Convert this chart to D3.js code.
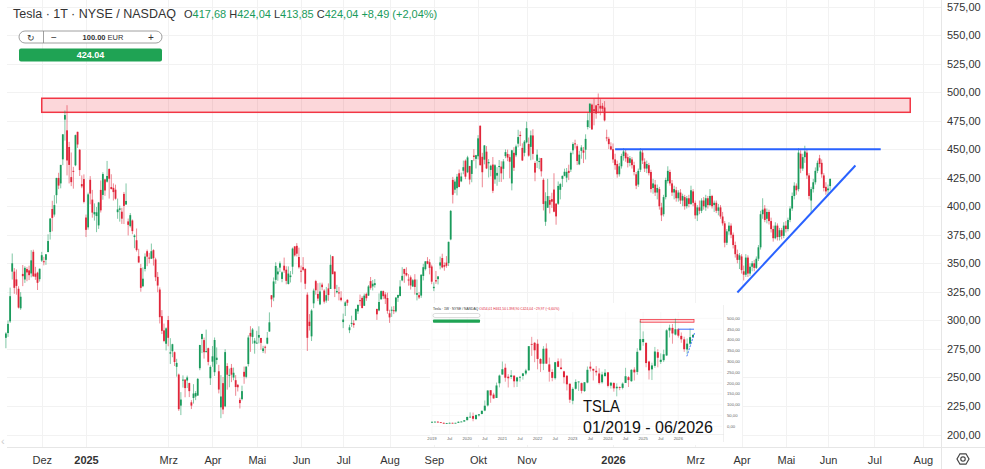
<!DOCTYPE html>
<html>
<head>
<meta charset="utf-8">
<script src="https://cdn.jsdelivr.net/npm/d3@7"></script>
<style>
  body { margin: 0; background: #fff; overflow: hidden; }
  svg { display: block; font-family: "Liberation Sans", Arial, sans-serif; }
</style>
</head>
<body>
<svg id="chart" width="985" height="469"></svg>
<script>
// daily candles per month: [day, open, high, low, close]
const nov2024 = [[6,284.7,289.6,275.6,288.5],[7,288.9,299.8,285.5,296.9],[8,299.1,328.7,297.7,321.2],[11,342.7,358.6,335.8,350.0],[12,342.7,345.8,323.3,328.5],[13,335.9,344.6,322.5,330.2],[14,327.7,329.9,310.4,311.2],[15,310.6,324.7,309.2,320.7],[18,340.7,348.5,330.0,338.7],[19,335.8,347.4,332.8,346.0],[20,345.0,346.6,334.3,342.0],[21,343.8,347.9,335.3,339.6],[22,341.1,361.5,337.7,352.6],[25,360.1,361.9,338.2,338.6],[26,341.0,346.9,335.5,338.2],[27,341.8,342.6,326.6,332.9],[29,336.1,345.5,334.0,345.2]];
const dec2024 = [[2,352.4,360.0,351.2,357.1],[3,351.8,355.7,348.2,351.4],[4,353.0,358.1,348.6,357.9],[5,359.9,375.4,359.5,369.5],[6,377.4,389.5,370.8,389.2],[9,397.6,404.8,378.0,389.8],[10,392.7,409.7,390.9,401.0],[11,409.7,424.9,402.4,424.8],[12,424.8,429.3,415.0,418.1],[13,420.0,436.3,415.7,436.2],[16,441.1,463.2,436.0,463.0],[17,475.9,483.9,457.5,479.9],[18,466.5,488.5,427.0,440.1],[19,451.9,456.4,420.0,436.2],[20,425.5,447.1,417.6,421.1],[23,431.0,434.5,415.4,430.6],[24,435.9,462.8,435.1,462.3],[26,465.2,465.3,451.1,454.1],[27,449.5,450.0,426.5,431.7],[30,419.4,427.0,415.8,417.4],[31,423.8,427.9,402.5,403.8]];
const jan2025 = [[2,390.1,392.7,373.0,379.3],[3,381.5,411.9,379.5,410.4],[6,423.2,426.4,401.7,411.1],[7,405.8,414.3,390.0,394.4],[8,392.9,402.5,387.4,394.9],[10,391.4,399.3,377.3,394.7],[13,383.2,403.8,380.1,403.3],[14,414.3,422.6,394.5,396.4],[15,409.9,429.8,405.7,428.2],[16,423.5,424.0,409.1,413.8],[17,421.5,439.7,420.7,426.5],[21,432.6,433.2,406.7,424.1],[22,416.8,428.0,414.6,415.1],[23,416.1,420.0,405.0,412.4],[24,414.5,418.9,405.8,406.6],[27,394.8,406.7,389.0,397.2],[28,396.9,400.6,386.5,398.1],[29,395.2,398.6,384.5,389.1],[30,410.8,412.5,384.4,400.3],[31,401.5,420.0,401.3,404.6]];
const feb2025 = [[3,386.7,389.2,374.4,383.7],[4,382.6,394.0,381.4,392.2],[5,387.5,388.4,375.5,378.2],[6,373.0,375.4,363.2,374.3],[7,370.2,380.5,360.3,361.6],[10,356.2,362.7,350.5,350.7],[11,345.8,349.4,325.1,328.5],[12,329.9,346.4,329.1,336.5],[13,345.0,358.7,342.9,355.9],[14,360.6,362.0,347.5,355.8],[18,355.0,359.1,350.0,354.1],[19,354.0,367.3,353.7,360.6],[20,361.5,362.3,348.0,354.4],[21,353.4,354.9,334.4,337.8],[24,338.1,342.4,324.7,330.5],[25,327.0,328.9,297.3,302.8],[26,303.7,309.0,288.0,290.8],[27,291.2,297.2,280.9,282.0],[28,279.5,293.9,273.6,293.0]];
const mar2025 = [[3,300.3,303.9,277.3,284.7],[4,270.9,284.4,261.8,272.0],[5,272.9,279.5,267.7,279.1],[6,272.1,272.7,260.0,263.5],[7,259.3,266.3,250.7,262.7],[10,252.5,253.4,220.7,222.2],[11,225.3,237.1,217.0,230.6],[12,247.2,251.8,241.1,248.1],[13,248.1,248.3,232.6,240.7],[14,247.3,251.6,240.7,250.0],[17,245.1,245.4,232.8,238.0],[18,228.2,230.1,222.3,225.3],[19,232.0,244.1,227.1,235.9],[20,233.3,238.0,230.1,236.3],[21,234.1,249.5,234.0,248.7],[24,258.1,278.6,256.3,278.4],[25,283.6,288.2,271.3,288.1],[26,282.7,284.9,266.5,272.1],[27,272.5,291.9,271.8,273.1],[28,275.6,276.1,260.6,263.6],[31,249.3,260.6,243.4,259.2]];
const apr2025 = [[1,263.8,277.5,259.3,268.5],[2,254.6,285.0,251.3,282.8],[3,265.3,276.3,261.5,267.3],[4,255.4,261.0,236.0,239.4],[7,223.8,252.0,214.3,233.3],[8,245.0,250.4,217.8,221.9],[9,224.7,274.7,223.9,272.2],[10,260.0,262.5,239.3,252.4],[11,251.8,257.7,241.4,252.3],[14,258.4,261.8,245.9,252.4],[15,249.9,258.6,247.5,254.1],[16,247.6,252.0,233.9,241.6],[17,243.5,244.3,237.7,241.4],[21,230.3,232.2,222.8,227.5],[22,231.0,242.8,229.9,238.0],[23,254.9,259.5,244.4,250.7],[24,250.5,259.5,249.2,259.5],[25,261.7,286.9,259.6,285.0],[28,289.0,294.9,272.4,285.9],[29,285.5,293.3,279.5,292.0],[30,279.9,284.5,270.8,282.2]];
const may2025 = [[1,280.0,290.9,279.8,280.5],[2,284.9,294.8,279.8,287.2],[5,284.6,284.6,274.3,280.3],[6,273.1,277.7,271.4,275.4],[7,276.9,277.9,271.0,276.2],[8,279.6,289.8,279.1,284.8],[9,290.2,307.0,290.0,298.3],[12,322.0,322.2,311.5,318.4],[13,320.0,337.6,316.8,334.1],[14,335.5,350.9,332.0,347.7],[15,340.3,346.1,334.7,342.8],[16,346.2,351.6,342.3,350.0],[19,336.3,343.0,333.4,342.1],[20,347.9,355.0,341.6,343.8],[21,344.4,347.4,331.6,334.6],[22,331.9,347.3,331.4,341.0],[23,337.9,343.2,333.2,339.3],[27,347.0,363.8,340.4,362.9],[28,364.8,365.0,355.9,356.9],[29,365.3,367.7,356.0,358.4],[30,355.5,363.7,345.3,346.5]];
const jun2025 = [[2,343.5,348.0,333.3,342.7],[3,346.6,355.4,343.0,344.3],[4,345.1,345.6,327.3,332.1],[5,322.5,324.5,273.2,284.7],[6,298.8,305.5,291.1,295.1],[9,286.0,309.8,281.9,308.6],[10,314.9,327.8,310.7,326.1],[11,334.4,335.5,322.5,326.4],[12,323.1,332.6,316.9,319.1],[13,314.0,333.0,313.3,325.3],[16,331.3,333.0,326.4,329.1],[17,326.1,327.3,314.7,316.4],[18,317.3,329.3,315.5,322.1],[20,328.0,332.4,317.1,322.2],[23,327.5,357.5,327.5,348.7],[24,356.2,356.3,340.4,340.5],[25,342.7,343.0,320.4,327.6],[26,324.6,331.1,323.6,325.8],[27,324.5,329.3,317.5,323.6],[30,319.9,325.6,316.6,317.7]];
const jul2025 = [[1,298.5,305.9,293.2,300.7],[2,312.6,316.8,303.8,315.7],[3,318.0,318.5,312.8,315.4],[7,291.4,296.2,288.8,293.9],[8,297.0,304.1,294.3,297.8],[9,297.5,300.2,293.5,295.9],[10,300.1,310.5,300.0,309.9],[11,307.9,314.1,305.6,313.5],[14,317.7,322.6,312.7,316.9],[15,319.7,321.2,310.5,310.8],[16,312.8,323.5,312.6,321.7],[17,323.2,324.3,317.1,319.4],[18,321.7,330.9,321.4,329.7],[21,334.4,338.0,326.9,328.5],[22,329.7,335.4,326.2,332.1],[23,330.9,336.2,328.7,332.6],[24,310.0,310.2,300.4,305.3],[25,308.7,323.6,308.0,316.1],[28,318.5,326.2,318.1,325.6],[29,325.6,326.2,318.6,321.2],[30,322.7,324.7,314.3,319.0],[31,319.6,324.3,305.8,308.3]];
const aug2025 = [[1,306.2,309.3,297.8,302.6],[4,309.1,312.1,303.0,309.3],[5,308.9,312.5,305.5,308.7],[6,307.9,320.5,306.9,319.9],[7,319.8,322.4,316.2,322.3],[8,321.4,335.2,321.0,329.7],[11,335.0,346.6,334.3,339.0],[12,345.0,345.3,332.9,340.8],[13,341.5,346.5,338.5,339.4],[14,335.8,340.5,330.4,335.6],[15,337.7,339.3,327.0,330.6],[18,329.6,336.3,329.6,335.2],[19,335.8,340.5,322.6,329.3],[20,322.4,335.8,317.5,323.9],[21,322.1,324.9,318.7,320.1],[22,321.7,340.3,319.7,340.0],[25,338.9,349.5,335.0,346.6],[26,344.9,351.9,343.7,351.7],[27,351.9,355.4,349.2,349.6],[28,350.9,353.6,340.3,346.0],[29,347.2,348.8,331.7,333.9]];
const sep2025 = [[2,328.2,333.3,325.6,329.4],[3,335.2,343.3,332.0,334.1],[4,336.1,338.9,331.5,338.5],[5,348.0,355.9,344.7,350.8],[8,354.6,358.4,345.6,346.4],[9,348.4,350.8,343.5,347.0],[10,350.6,356.3,346.1,347.8],[11,350.2,369.0,347.6,368.8],[12,370.9,396.7,370.2,395.9],[15,423.1,425.7,402.4,410.0],[16,414.5,423.6,411.4,421.6],[17,415.8,428.3,409.5,425.9],[18,428.9,432.2,416.6,416.9],[19,421.8,429.5,421.1,426.1],[22,431.1,440.0,428.0,434.2],[23,439.9,441.0,423.7,425.9],[24,429.8,444.2,429.0,442.8],[25,435.2,435.4,419.1,423.4],[26,428.3,440.5,421.0,440.4],[29,444.4,450.0,439.5,443.2],[30,441.5,445.0,433.1,444.7]];
const oct2025 = [[1,443.8,462.3,441.0,459.5],[2,470.5,470.8,435.6,436.0],[3,443.3,446.8,416.6,429.8],[6,440.8,453.5,436.7,453.3],[7,447.8,452.7,432.5,433.1],[8,437.6,441.3,425.2,438.7],[9,431.8,436.4,426.2,435.5],[10,436.5,443.1,411.5,413.5],[13,423.5,436.9,419.7,435.9],[14,426.8,434.2,417.9,429.2],[15,434.7,440.5,421.3,435.2],[16,434.7,439.4,421.3,428.8],[17,432.8,441.3,423.6,439.3],[20,443.9,449.8,442.1,447.4],[21,445.8,449.6,439.5,442.6],[22,443.0,445.5,424.5,439.0],[23,420.0,449.4,413.9,449.0],[24,446.8,451.7,430.9,433.7],[27,444.6,454.0,443.0,452.4],[28,454.8,467.0,451.6,460.6],[29,462.5,465.7,452.7,461.5],[30,451.1,455.1,439.6,440.1],[31,446.8,458.0,443.7,456.6]];
const nov2025 = [[3,456.0,474.1,455.1,468.4],[4,454.5,460.2,443.4,444.3],[5,452.0,466.3,440.3,462.1],[6,462.0,467.5,440.9,445.9],[7,437.9,439.4,421.9,429.5],[10,439.8,449.7,433.5,445.2],[11,439.4,442.5,432.4,439.6],[12,442.2,442.3,426.0,430.6],[13,423.1,424.5,396.3,402.0],[14,386.4,412.2,382.8,404.4],[17,398.7,424.0,398.7,408.9],[18,405.4,408.9,393.7,401.3],[19,406.2,411.8,398.5,404.0],[20,414.6,428.9,394.7,395.2],[21,402.2,402.8,383.8,391.1],[24,402.2,421.7,401.1,417.8],[25,414.4,420.5,406.0,419.4],[26,424.0,426.9,416.9,426.6],[28,426.6,432.9,426.2,430.2]];
const dec2025 = [[1,425.0,433.5,421.0,430.1],[2,431.0,436.4,422.9,429.2],[3,432.1,447.9,430.0,446.7],[4,449.0,456.0,445.5,454.5],[5,455.1,458.3,450.5,455.0],[8,452.6,454.3,436.1,439.6],[9,436.7,448.6,436.0,445.2],[10,448.5,453.5,441.6,451.5],[11,448.9,451.9,437.8,446.9],[12,449.5,463.0,441.0,459.0],[15,469.4,481.5,467.3,475.3],[16,482.5,490.0,468.6,489.9],[17,489.0,489.9,467.0,467.3],[18,485.0,494.0,470.9,483.4],[19,488.3,488.8,476.7,481.2],[22,489.5,498.8,481.4,488.7],[23,488.0,493.8,479.7,485.6],[24,488.0,490.4,482.9,485.4],[26,486.5,492.1,474.3,475.2],[29,460.3,467.1,456.9,459.6],[30,459.1,460.8,450.1,454.4],[31,452.5,456.0,449.0,449.7]];
const jan2026 = [[2,450,455,438,441],[5,441,446,432,436],[6,437,440,425,428],[7,428,438,426,435],[8,435,446,433,444],[9,444,451,440,448],[12,447,450,439,442],[13,443,446,434,438],[14,438,444,435,442],[15,441,443,433,436],[16,436,439,427,430],[20,428,430,415,418],[21,419,433,417,431],[22,432,451,430,448],[23,447,450,437,440],[26,439,442,430,433],[27,433,440,429,437],[28,436,438,427,429],[29,430,432,412,415],[30,416,424,411,420]];
const feb2026 = [[2,419,423,409,412],[3,412,419,406,416],[4,415,417,397,400],[5,399,403,387,392],[6,393,410,391,408],[9,408,425,406,423],[10,422,435,420,431],[11,430,432,418,420],[12,420,423,409,412],[13,412,418,406,415],[17,414,417,404,407],[18,407,414,404,412],[19,412,415,402,405],[20,405,411,400,409],[23,408,410,397,400],[24,400,409,398,407],[25,407,410,399,402],[26,402,418,401,414],[27,413,415,400,403]];
const mar2026 = [[2,403,405,389,392],[3,392,401,387,399],[4,399,405,393,396],[5,396,407,394,405],[6,405,408,397,400],[9,399,410,396,407],[10,407,409,398,401],[11,401,415,400,409],[12,409,410,398,400],[13,401,405,395,403],[16,403,405,394,396],[17,396,402,392,399],[18,399,401,389,391],[19,391,395,383,385],[20,385,387,364,368],[23,368,380,366,378],[24,378,386,375,383],[25,383,385,372,375],[26,375,377,363,366],[27,366,369,355,358],[30,358,362,350,353],[31,353,359,345,357]];
const apr2026 = [[1,356,358,341,344],[2,343,348,335,340],[6,340,358,338,355],[7,355,357,338,341],[8,341,350,339,347],[9,347,352,343,350],[10,350,353,343,346],[13,346,356,345,354],[14,354,366,352,364],[15,364,396,362,393],[16,393,407,389,397],[17,398,401,386,388],[20,389,398,385,395],[21,395,397,384,387],[22,387,390,377,380],[23,380,383,369,372],[24,372,386,371,383],[27,383,385,370,373],[28,373,381,370,379],[29,379,381,371,374],[30,374,386,372,383]];
const may2026 = [[1,383,387,377,380],[4,380,390,378,388],[5,388,400,386,398],[6,398,412,396,409],[7,409,421,406,418],[8,418,420,410,414],[11,415,451,413,447],[12,446,449,429,433],[13,433,446,431,443],[14,443,453,438,448],[15,447,450,424,427],[18,427,429,406,409],[19,405,417,394,415],[20,415,424,412,421],[21,421,434,419,431],[22,431,440,429,438],[26,442,445,434,437],[27,438,441,425,428],[28,427,429,413,416],[29,417,421,410,413]];
const jun2026 = [[1,414,419,409,415.55],[2,417.68,424.04,413.85,424.04]];

const dailyMonths = [
  ["2024-11", nov2024], ["2024-12", dec2024], ["2025-01", jan2025], ["2025-02", feb2025],
  ["2025-03", mar2025], ["2025-04", apr2025], ["2025-05", may2025], ["2025-06", jun2025],
  ["2025-07", jul2025], ["2025-08", aug2025], ["2025-09", sep2025], ["2025-10", oct2025],
  ["2025-11", nov2025], ["2025-12", dec2025], ["2026-01", jan2026], ["2026-02", feb2026],
  ["2026-03", mar2026], ["2026-04", apr2026], ["2026-05", may2026], ["2026-06", jun2026]
];

// x axis ticks (first trading day of the month) and labels
const monthTicks = [
  ["2024-12","Dez"],["2025-01","2025"],["2025-03","Mrz"],["2025-04","Apr"],["2025-05","Mai"],
  ["2025-06","Jun"],["2025-07","Jul"],["2025-08","Aug"],["2025-09","Sep"],["2025-10","Okt"],
  ["2025-11","Nov"],["2026-01","2026"],["2026-03","Mrz"],["2026-04","Apr"],["2026-05","Mai"],
  ["2026-06","Jun"],["2026-07","Jul"],["2026-08","Aug"]
];
const priceTicks = d3.range(200, 576, 25);

// drawings on the chart
const zone = {from: "2024-12-02", to: "2026-07-24", low: 482.3, high: 494.6};
const resistance = {from: "2026-01-05", to: "2026-07-06", price: 450};
const trendline = {from: "2026-03-30", p1: 324.4, to: "2026-06-18", p2: 435.7};

// monthly candles for the small long-term picture: [open, high, low, close]
const inset2019 = [[20.4,23.5,18.6,20.5],[20.5,22.8,19.9,21.3],[21.3,24.0,17.6,18.7],[18.8,19.6,15.9,15.9],[16.2,17.2,12.3,12.3],[12.4,15.6,11.8,14.9],[15.0,17.5,14.6,16.1],[16.1,16.6,14.2,15.0],[15.0,16.2,14.8,16.1],[16.1,22.7,15.3,21.0],[21.0,24.1,20.9,22.0],[22.0,29.0,21.9,27.9]];
const inset2020 = [[28.3,43.9,28.1,43.4],[44.0,64.6,39.5,44.5],[47.4,63.6,23.4,34.9],[33.6,55.3,29.8,52.1],[50.3,56.5,45.5,55.7],[57.2,72.3,55.4,72.0],[72.8,119.7,70.1,95.4],[96.6,166.7,91.6,166.1],[167.4,167.5,109.0,143.0],[146.9,155.3,128.0,129.3],[131.3,202.6,131.3,189.2],[199.2,239.6,180.4,235.2]];
const inset2021 = [[239.8,300.1,239.1,264.5],[271.4,290.3,206.7,225.2],[230.0,241.8,179.8,222.6],[228.8,260.3,219.0,236.5],[234.6,236.3,181.0,208.4],[208.2,229.2,182.3,226.6],[227.0,233.3,206.8,229.1],[233.3,245.4,216.3,245.2],[244.7,266.3,236.8,258.5],[259.5,371.7,257.0,371.3],[381.7,414.5,326.2,381.6],[386.9,390.9,297.0,352.3]];
const inset2022 = [[382.6,402.7,264.0,312.2],[311.7,315.9,252.0,290.1],[289.9,371.6,260.3,359.2],[360.4,384.3,290.0,290.3],[286.9,318.5,206.9,252.8],[251.7,264.2,208.7,224.5],[222.9,298.3,216.2,297.1],[301.3,314.7,273.9,275.6],[272.6,313.8,262.5,265.3],[254.5,257.5,198.6,227.5],[234.1,237.4,166.2,194.7],[197.1,198.9,108.2,123.2]];
const inset2023 = [[118.5,180.7,101.8,173.2],[173.9,217.7,169.9,205.7],[206.2,207.8,163.9,207.5],[199.9,202.7,152.4,164.3],[163.2,204.5,158.8,203.9],[202.6,277.0,199.4,261.8],[276.5,299.3,254.1,267.4],[266.3,266.5,212.4,258.1],[257.3,279.0,234.6,250.2],[244.8,268.9,194.1,200.8],[204.0,252.8,197.9,240.1],[233.1,265.1,228.2,248.5]];
const inset2024 = [[250.1,251.3,180.1,187.3],[188.5,205.6,175.0,201.9],[200.5,204.5,160.5,175.8],[176.2,198.9,138.8,183.3],[182.0,184.8,167.3,178.1],[178.1,203.2,170.9,197.9],[201.0,271.0,201.0,232.1],[227.7,232.7,182.0,214.1],[209.0,265.0,206.0,261.6],[262.7,273.5,212.1,249.9],[252.0,361.9,238.9,345.2],[352.4,488.5,350.8,403.8]];
const inset2025 = [[390.1,439.7,373.0,404.6],[386.7,388.4,273.6,293.0],[300.3,303.9,217.0,259.2],[263.8,294.9,214.3,282.2],[280.0,367.7,271.0,346.5],[343.5,357.5,273.2,317.7],[298.5,338.0,288.8,308.3],[306.2,355.4,297.8,333.9],[328.2,450.0,325.6,444.7],[443.8,470.8,411.5,456.6],[456.0,474.1,382.8,430.2],[425.0,498.8,421.0,449.7]];
const inset2026 = [[450,455,411,420],[419,435,387,403],[403,415,345,357],[356,407,335,383],[383,453,377,413],[414,424,409,424]];
const insetYears = [[2019, inset2019],[2020, inset2020],[2021, inset2021],[2022, inset2022],[2023, inset2023],[2024, inset2024],[2025, inset2025],[2026, inset2026]];

const UP = "#1a9b5c", DOWN = "#e0263a", BLUE = "#2962ff", ZONE = "#f23645";
const GRID = "#f2f2f2", TEXT = "#333";

const svg = d3.select("#chart");
const parse = d3.timeParse("%Y-%m-%d");

// flatten candles
const candles = [];
dailyMonths.forEach(([ym, rows]) => {
  rows.forEach(r => candles.push({
    date: parse(ym + "-" + String(r[0]).padStart(2, "0")),
    o: r[1], h: r[2], l: r[3], c: r[4]
  }));
});
candles.forEach((d, i) => d.i = i);

// trading calendar, continued with plain weekdays after the last candle
const days = candles.map(d => d.date);
let t = d3.timeDay.offset(days[days.length - 1], 1);
while (t < parse("2026-09-30")) {
  if (t.getDay() !== 0 && t.getDay() !== 6) days.push(t);
  t = d3.timeDay.offset(t, 1);
}
const dayIndex = s => d3.bisectLeft(days, parse(s));

const x = d3.scaleLinear()
  .domain([dayIndex("2025-01-02"), dayIndex("2026-01-02")])
  .range([86, 613]);
const y = d3.scaleLinear().domain([200, 575]).range([434.5, 6.5]);

svg.append("rect").attr("width", 985).attr("height", 469).attr("fill", "#fff");

// grid
const grid = svg.append("g");
grid.selectAll(".hg").data(priceTicks).join("line")
  .attr("x1", 7).attr("x2", 941)
  .attr("y1", d => Math.round(y(d)) + 0.5).attr("y2", d => Math.round(y(d)) + 0.5)
  .attr("stroke", GRID);
grid.selectAll(".vg").data(monthTicks).join("line")
  .attr("x1", d => Math.round(x(dayIndex(d[0] + "-01"))) + 0.5)
  .attr("x2", d => Math.round(x(dayIndex(d[0] + "-01"))) + 0.5)
  .attr("y1", 0).attr("y2", 448)
  .attr("stroke", GRID);

// resistance zone
svg.append("rect")
  .attr("x", x(dayIndex(zone.from)))
  .attr("y", y(zone.high))
  .attr("width", x(dayIndex(zone.to)) - x(dayIndex(zone.from)))
  .attr("height", y(zone.low) - y(zone.high))
  .attr("fill", ZONE).attr("fill-opacity", 0.2)
  .attr("stroke", ZONE).attr("stroke-width", 1.5);

// candles
const bodyW = 1.8;
const cg = svg.append("g").selectAll("g").data(candles).join("g");
cg.append("line")
  .attr("x1", d => x(d.i)).attr("x2", d => x(d.i))
  .attr("y1", d => y(d.h)).attr("y2", d => y(d.l))
  .attr("stroke", d => d.c >= d.o ? UP : DOWN)
  .attr("stroke-opacity", 0.55)
  .attr("stroke-width", 1);
cg.append("rect")
  .attr("x", d => x(d.i) - bodyW / 2)
  .attr("width", bodyW)
  .attr("y", d => y(Math.max(d.o, d.c)))
  .attr("height", d => Math.max(1, Math.abs(y(d.o) - y(d.c))))
  .attr("fill", d => d.c >= d.o ? UP : DOWN);

// blue lines
svg.append("line")
  .attr("x1", x(dayIndex(resistance.from))).attr("x2", x(dayIndex(resistance.to)))
  .attr("y1", y(resistance.price)).attr("y2", y(resistance.price))
  .attr("stroke", BLUE).attr("stroke-width", 2);
svg.append("line")
  .attr("x1", x(dayIndex(trendline.from))).attr("y1", y(trendline.p1))
  .attr("x2", x(dayIndex(trendline.to))).attr("y2", y(trendline.p2))
  .attr("stroke", BLUE).attr("stroke-width", 2);

// ---------- small long-term picture ----------
const inset = svg.append("g");
inset.append("rect").attr("x", 430).attr("y", 303).attr("width", 312).attr("height", 142).attr("fill", "#fff");
const monthly = [];
insetYears.forEach(([yr, rows]) => rows.forEach((r, m) => monthly.push({yr, m, o: r[0], h: r[1], l: r[2], c: r[3]})));
monthly.forEach((d, i) => d.i = i);
const ix = d3.scaleLinear().domain([0, 89]).range([432, 693]);
const iy = d3.scaleLinear().domain([0, 500]).range([426.3, 318.4]);
const iTicks = d3.range(0, 501, 50);
inset.selectAll(".ihg").data(iTicks).join("line")
  .attr("x1", 432).attr("x2", 722)
  .attr("y1", d => iy(d)).attr("y2", d => iy(d))
  .attr("stroke", "#f4f4f4").attr("stroke-width", 0.6);
const iMonths = monthly.filter(d => d.m === 0 || d.m === 6);
inset.selectAll(".ivg").data(iMonths).join("line")
  .attr("x1", d => ix(d.i)).attr("x2", d => ix(d.i))
  .attr("y1", 312).attr("y2", 434)
  .attr("stroke", "#f4f4f4").attr("stroke-width", 0.6);
inset.append("line").attr("x1", 432).attr("x2", 724).attr("y1", 434.5).attr("y2", 434.5)
  .attr("stroke", "#e6e6e6").attr("stroke-width", 0.6);
inset.append("line").attr("x1", 723.5).attr("x2", 723.5).attr("y1", 305).attr("y2", 442)
  .attr("stroke", "#e6e6e6").attr("stroke-width", 0.6);
inset.selectAll(".iyl").data(iTicks).join("text")
  .attr("x", 727).attr("y", d => iy(d) + 1.5)
  .attr("font-size", 4.2).attr("fill", "#666")
  .text(d => d3.format(".2f")(d).replace(".", ","));
inset.selectAll(".ixl").data(iMonths).join("text")
  .attr("x", d => ix(d.i)).attr("y", 439.5)
  .attr("text-anchor", "middle").attr("font-size", 4.2).attr("fill", "#666")
  .text(d => d.m === 0 ? d.yr : "Jul");

// zone and lines in the small picture
inset.append("rect")
  .attr("x", ix(71)).attr("y", iy(zone.high))
  .attr("width", 694 - ix(71)).attr("height", iy(zone.low) - iy(zone.high))
  .attr("fill", ZONE).attr("fill-opacity", 0.2)
  .attr("stroke", ZONE).attr("stroke-width", 0.8);
const ic = inset.append("g").selectAll("g").data(monthly).join("g");
ic.append("line")
  .attr("x1", d => ix(d.i)).attr("x2", d => ix(d.i))
  .attr("y1", d => iy(d.h)).attr("y2", d => iy(d.l))
  .attr("stroke", d => d.c >= d.o ? UP : DOWN)
  .attr("stroke-opacity", 0.6).attr("stroke-width", 0.8);
ic.append("rect")
  .attr("x", d => ix(d.i) - 1).attr("width", 2)
  .attr("y", d => iy(Math.max(d.o, d.c)))
  .attr("height", d => Math.max(0.8, Math.abs(iy(d.o) - iy(d.c))))
  .attr("fill", d => d.c >= d.o ? UP : DOWN);
inset.append("line")
  .attr("x1", ix(84)).attr("x2", 694)
  .attr("y1", iy(resistance.price)).attr("y2", iy(resistance.price))
  .attr("stroke", BLUE).attr("stroke-width", 0.9);
inset.append("line")
  .attr("x1", ix(86.9)).attr("y1", iy(trendline.p1))
  .attr("x2", ix(89.6)).attr("y2", iy(trendline.p2))
  .attr("stroke", BLUE).attr("stroke-width", 0.9).attr("stroke-dasharray", "2,1.2");

// small header of the picture
const ih = inset.append("text").attr("x", 433).attr("y", 310).attr("font-size", 3.4).attr("fill", TEXT);
ih.append("tspan").text("Tesla · 1W · NYSE / NASDAQ ");
ih.append("tspan").attr("fill", DOWN).text(" O454,01 H461,50 L398,90 C424,04 −29,97 (−6,60%)");
inset.append("rect").attr("x", 433).attr("y", 313.5).attr("width", 47).attr("height", 4)
  .attr("rx", 2).attr("fill", "#fff").attr("stroke", "#aaa").attr("stroke-width", 0.4);
inset.append("rect").attr("x", 433).attr("y", 319.5).attr("width", 47).attr("height", 3.2)
  .attr("rx", 0.8).attr("fill", "#1fa354");

inset.append("text").attr("x", 583).attr("y", 411.5)
  .attr("font-size", 16.5).attr("fill", "#111")
  .attr("textLength", 37).attr("lengthAdjust", "spacingAndGlyphs")
  .text("TSLA");
inset.append("text").attr("x", 583).attr("y", 432.5)
  .attr("font-size", 16).attr("fill", "#111")
  .text("01/2019 - 06/2026");

// ---------- header ----------
svg.append("text").attr("x", 13).attr("y", 18)
  .attr("font-size", 12.5).attr("fill", TEXT)
  .text("Tesla · 1T · NYSE / NASDAQ");
const last = candles[candles.length - 1];
const prev = candles[candles.length - 2];
const de = v => d3.format(".2f")(v).replace(".", ",");
const ohlc = svg.append("text").attr("x", 184).attr("y", 18).attr("font-size", 11);
[["O", last.o], [" H", last.h], [" L", last.l], [" C", last.c]].forEach(([k, v]) => {
  ohlc.append("tspan").attr("fill", TEXT).text(k);
  ohlc.append("tspan").attr("fill", UP).text(de(v));
});
const chg = last.c - prev.c;
ohlc.append("tspan").attr("fill", UP)
  .text(" +" + de(chg) + " (+" + de(chg / prev.c * 100) + "%)");

// order widget
const w = svg.append("g");
w.append("rect").attr("x", 19).attr("y", 31).attr("width", 143).attr("height", 12)
  .attr("rx", 6).attr("fill", "#fff").attr("stroke", "#888").attr("stroke-width", 0.8);
w.append("line").attr("x1", 43.5).attr("x2", 43.5).attr("y1", 31).attr("y2", 43)
  .attr("stroke", "#888").attr("stroke-width", 0.8);
w.append("text").attr("x", 31).attr("y", 40.5).attr("text-anchor", "middle")
  .attr("font-size", 9).attr("fill", TEXT).text("↻");
w.append("text").attr("x", 54).attr("y", 40.5).attr("text-anchor", "middle")
  .attr("font-size", 10).attr("fill", TEXT).text("−");
const amt = w.append("text").attr("x", 103).attr("y", 40).attr("text-anchor", "middle")
  .attr("font-size", 7.5).attr("fill", TEXT);
amt.append("tspan").attr("font-weight", "bold").text("100.00");
amt.append("tspan").text(" EUR");
w.append("text").attr("x", 151).attr("y", 40.5).attr("text-anchor", "middle")
  .attr("font-size", 10).attr("fill", TEXT).text("+");
w.append("rect").attr("x", 19).attr("y", 48.5).attr("width", 143).attr("height", 13)
  .attr("rx", 2).attr("fill", "#1fa354");
w.append("text").attr("x", 90.5).attr("y", 58).attr("text-anchor", "middle")
  .attr("font-size", 9).attr("font-weight", "bold").attr("fill", "#fff")
  .text(d3.format(".2f")(last.c));

// ---------- axes ----------
svg.append("line").attr("x1", 941.5).attr("x2", 941.5).attr("y1", 0).attr("y2", 469)
  .attr("stroke", "#e6e6e6");
svg.append("line").attr("x1", 7).attr("x2", 985).attr("y1", 447.5).attr("y2", 447.5)
  .attr("stroke", "#e6e6e6");

const yAxis = d3.axisRight(y).tickValues(priceTicks).tickSize(0).tickPadding(0)
  .tickFormat(d => de(d));
svg.append("g").attr("transform", "translate(947,0)").call(yAxis)
  .call(g => g.select(".domain").remove())
  .call(g => g.selectAll("text")
    .style("font-family", "'Liberation Sans', Arial, sans-serif")
    .style("font-size", "11px").attr("fill", TEXT));

const xAxis = d3.axisBottom(x)
  .tickValues(monthTicks.map(d => dayIndex(d[0] + "-01")))
  .tickFormat((d, i) => monthTicks[i][1])
  .tickSize(0).tickPadding(8);
svg.append("g").attr("transform", "translate(0,448)").call(xAxis)
  .call(g => g.select(".domain").remove())
  .call(g => g.selectAll("text")
    .style("font-family", "'Liberation Sans', Arial, sans-serif")
    .style("font-size", "11px")
    .style("font-weight", (d, i) => /^\d{4}$/.test(monthTicks[i][1]) ? "bold" : "normal")
    .attr("fill", TEXT));

// left scroll hint and settings icon
svg.append("text").attr("x", 1).attr("y", 445).attr("font-size", 11).attr("fill", "#ccc").text("‹");
const gear = svg.append("g").attr("transform", "translate(963,459)");
gear.append("path")
  .attr("d", d3.range(6).map((k, i) => {
    const a = Math.PI / 3 * k;
    return (i ? "L" : "M") + (6 * Math.cos(a)).toFixed(2) + "," + (6 * Math.sin(a)).toFixed(2);
  }).join("") + "Z")
  .attr("fill", "none").attr("stroke", "#444").attr("stroke-width", 1.2);
gear.append("circle").attr("r", 2.2).attr("fill", "none").attr("stroke", "#444").attr("stroke-width", 1.2);
</script>
</body>
</html>
